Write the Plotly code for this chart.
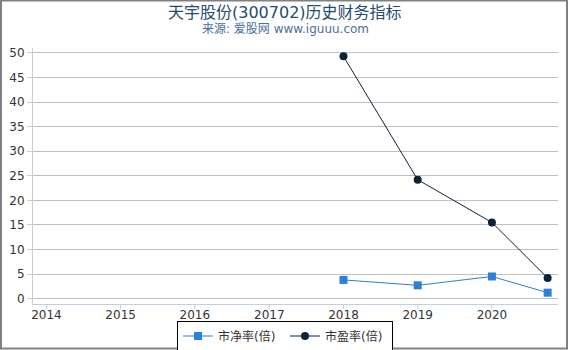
import plotly.graph_objects as go

dates = ["2018-01-01", "2019-01-01", "2020-01-01", "2020-10-01"]
pb = [3.8, 2.7, 4.5, 1.2]
pe = [49.3, 24.2, 15.5, 4.2]
x_ticks = ["2014-01-01", "2015-01-01", "2016-01-01", "2017-01-01", "2018-01-01", "2019-01-01", "2020-01-01"]
x_tick_labels = ["2014", "2015", "2016", "2017", "2018", "2019", "2020"]
y_ticks = [0, 5, 10, 15, 20, 25, 30, 35, 40, 45, 50]

font_family = "DejaVu Sans, Noto Sans CJK SC, sans-serif"

# plot area in pixels
L, R, T, B = 33, 558, 48, 304
W, H = R - L, B - T

def px_x(p):
    return (p - L) / W

def px_y(p):
    return (B - p) / H

fig = go.Figure()
fig.add_trace(go.Scatter(
    x=dates, y=pb, name="市净率(倍)", mode="lines+markers",
    line=dict(color="#2f7ed8", width=1),
    marker=dict(symbol="square", size=8, color="#2f7ed8"),
))
fig.add_trace(go.Scatter(
    x=dates, y=pe, name="市盈率(倍)", mode="lines+markers",
    line=dict(color="#0d233a", width=1),
    marker=dict(symbol="circle", size=8, color="#0d233a"),
))

tick_shapes = [
    dict(type="line", xref="x", yref="paper", x0=t, x1=t,
         y0=0, y1=px_y(B + 5), line=dict(color="#c0d0e0", width=1))
    for t in x_ticks
]

fig.update_layout(
    width=570, height=350,
    margin=dict(l=L, r=570 - R, t=T, b=350 - B, autoexpand=False),
    paper_bgcolor="white", plot_bgcolor="white",
    font=dict(family=font_family, size=12, color="#333333"),
    showlegend=True,
    legend=dict(
        orientation="h", x=0.5, xanchor="center", xref="container",
        y=(350 - 336) / 350, yanchor="middle", yref="container",
        bordercolor="#000000", borderwidth=1, bgcolor="white",
        font=dict(size=12, color="#333333"),
        itemwidth=30, tracegroupgap=0,
        entrywidth=62, entrywidthmode="pixels",
    ),
    xaxis=dict(
        type="date",
        range=["2013-10-27", "2020-11-21"],
        tickvals=x_ticks, ticktext=x_tick_labels,
        showgrid=False, showline=True, linecolor="#c0d0e0", linewidth=1,
        ticks="",
        tickfont=dict(size=12, color="#333333"),
        zeroline=False, automargin=False,
    ),
    yaxis=dict(
        range=[-1.1, 51],
        tickvals=y_ticks,
        showgrid=True, gridcolor="#c0c0c0", gridwidth=1,
        showline=True, linecolor="#c0d0e0", linewidth=1,
        ticks="outside", ticklen=5, tickcolor="#c0d0e0",
        tickfont=dict(size=12, color="#333333"),
        zeroline=False, automargin=False,
    ),
    annotations=[
        dict(text="天宇股份(300702)历史财务指标", xref="paper", yref="paper",
             x=px_x(285), y=px_y(12), xanchor="center", yanchor="middle",
             showarrow=False, font=dict(size=16, color="#274b6d", family=font_family)),
        dict(text="来源: 爱股网 www.iguuu.com", xref="paper", yref="paper",
             x=px_x(285), y=px_y(29), xanchor="center", yanchor="middle",
             showarrow=False, font=dict(size=12, color="#4d6d99", family=font_family)),
    ],
    shapes=tick_shapes + [dict(
        type="rect", xref="paper", yref="paper",
        x0=px_x(1), x1=px_x(567), y0=px_y(348.5), y1=px_y(0.5),
        line=dict(color="#808080", width=2), fillcolor="rgba(0,0,0,0)", layer="above",
    )],
)

fig.write_html("out.html")
